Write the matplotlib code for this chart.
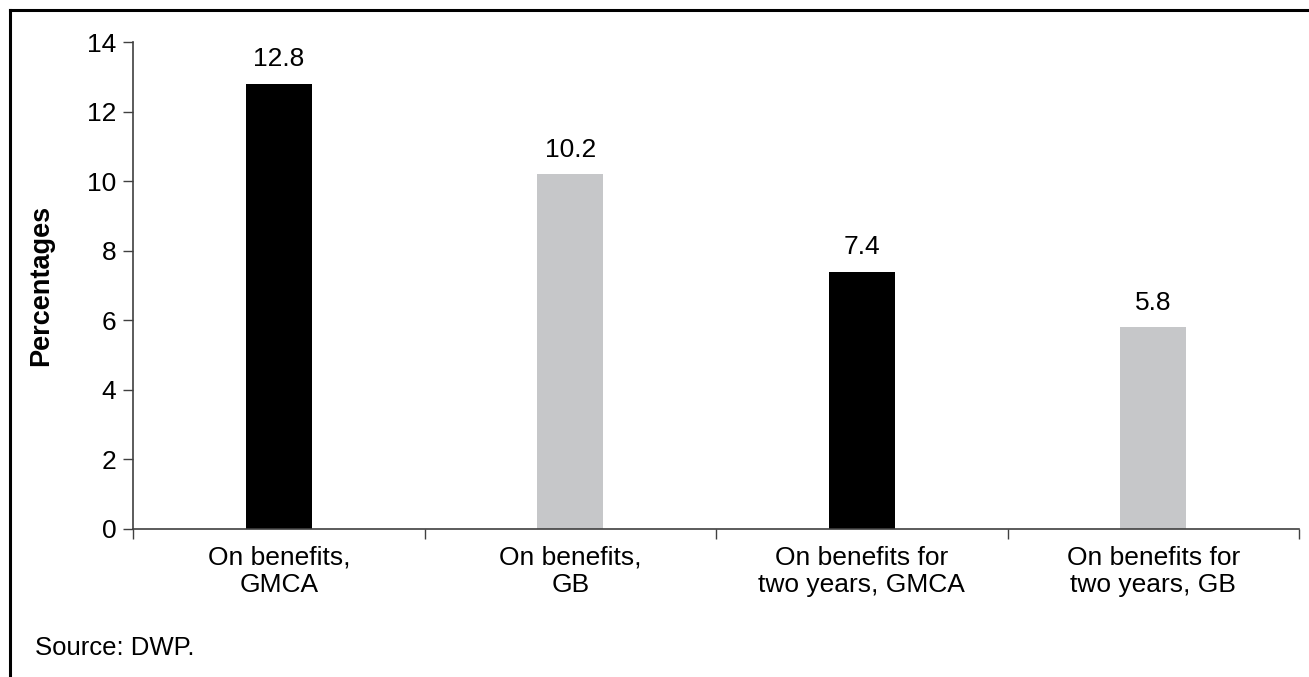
import matplotlib.pyplot as plt
from matplotlib.lines import Line2D

plt.rcParams['font.family'] = ['Liberation Sans', 'DejaVu Sans']

categories = ['On benefits,\nGMCA', 'On benefits,\nGB',
              'On benefits for\ntwo years, GMCA', 'On benefits for\ntwo years, GB']
values = [12.8, 10.2, 7.4, 5.8]
colours = ['#000000', '#c6c7c9', '#000000', '#c6c7c9']

W, H = 1309, 677
fig = plt.figure(figsize=(W / 100, H / 100), dpi=100)
ax = fig.add_axes([133 / W, 1 - 529 / H, 1166 / W, 487 / H])

x = list(range(len(values)))
ax.bar(x, values, width=0.225, color=colours)
for xi, v in zip(x, values):
    ax.annotate(f'{v}', (xi, v), xytext=(0, 9), textcoords='offset points',
                ha='center', va='bottom', fontsize=19)

ax.set_xlim(-0.5, len(values) - 0.5)
ax.set_ylim(0, 14)
ax.set_yticks(range(0, 15, 2))

# boundary ticks between categories, labels at the centres
ax.set_xticks([i - 0.5 for i in range(len(values) + 1)])
ax.set_xticklabels([])
ax.set_xticks(x, minor=True)
ax.set_xticklabels(categories, minor=True, fontsize=19, linespacing=1.2)
ax.tick_params(axis='x', which='minor', length=0, pad=12)
ax.tick_params(axis='x', which='major', length=7, width=1, color='#404040')
ax.tick_params(axis='y', length=7, width=1, color='#404040', labelsize=19, pad=5)

for s in ['top', 'right']:
    ax.spines[s].set_visible(False)
for s in ['left', 'bottom']:
    ax.spines[s].set_color('#404040')
    ax.spines[s].set_linewidth(1.2)

ax.set_ylabel('Percentages', fontsize=19.5, fontweight='bold', labelpad=24)

fig.text(35 / W, 1 - 648 / H, 'Source: DWP.', fontsize=18.5, va='center')

# frame lines along the top and left of the figure
fig.add_artist(Line2D([10 / W, 10 / W], [0, 1 - 10 / H], transform=fig.transFigure,
                      color='black', lw=2.2))
fig.add_artist(Line2D([10 / W, 1], [1 - 10 / H, 1 - 10 / H], transform=fig.transFigure,
                      color='black', lw=2.2))

fig.savefig('out.png', dpi=100)
